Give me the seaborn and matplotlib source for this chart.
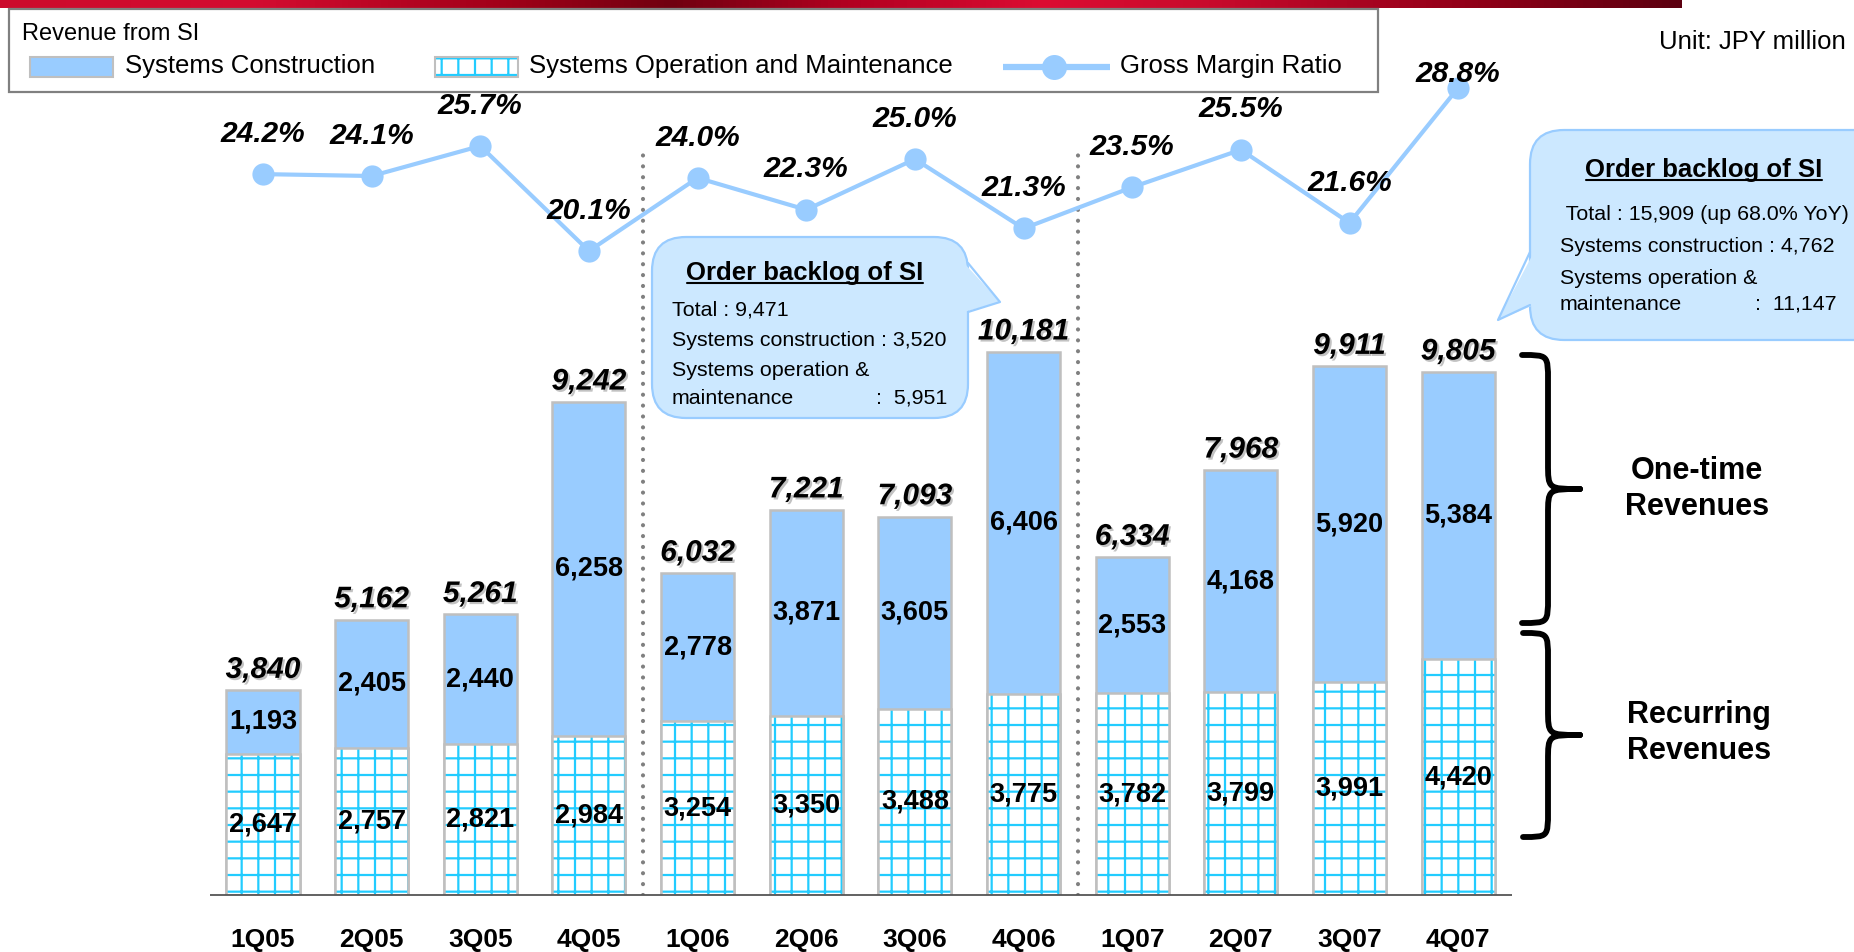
#!/usr/bin/env python3
"""Revenue from SI by quarter: stacked bars with the gross margin ratio line."""

import pandas as pd
import seaborn as sns
import matplotlib.pyplot as plt
import matplotlib.patheffects as pe
from matplotlib.colors import LinearSegmentedColormap
from matplotlib.path import Path
from matplotlib.patches import FancyBboxPatch, PathPatch, Polygon, Rectangle

# ---- data -----------------------------------------------------------------
quarters = ["1Q05", "2Q05", "3Q05", "4Q05", "1Q06", "2Q06", "3Q06", "4Q06",
            "1Q07", "2Q07", "3Q07", "4Q07"]
construction = [1193, 2405, 2440, 6258, 2778, 3871, 3605, 6406, 2553, 4168, 5920, 5384]
operation = [2647, 2757, 2821, 2984, 3254, 3350, 3488, 3775, 3782, 3799, 3991, 4420]
totals = [3840, 5162, 5261, 9242, 6032, 7221, 7093, 10181, 6334, 7968, 9911, 9805]
margin = [24.2, 24.1, 25.7, 20.1, 24.0, 22.3, 25.0, 21.3, 23.5, 25.5, 21.6, 28.8]
year_breaks = [3.5, 7.5]

legend_title = "Revenue from SI"
legend_labels = ["Systems Construction", "Systems Operation and Maintenance", "Gross Margin Ratio"]
unit_text = "Unit: JPY million"
backlog_title = "Order backlog of SI"
backlog_fy06 = ["Total : 9,471", "Systems construction : 3,520", "Systems operation &", "maintenance"]
backlog_fy06_om = ":  5,951"
backlog_fy07 = [" Total : 15,909 (up 68.0% YoY)", "Systems construction : 4,762", "Systems operation &", "maintenance"]
backlog_fy07_om = ":  11,147"
brace_labels = ["One-time\nRevenues", "Recurring\nRevenues"]

# ---- style ----------------------------------------------------------------
BLUE = "#99CCFF"
CYAN = "#22CCFF"
EDGE = "#BFBFBF"
BUBBLE = "#CCE8FF"
W, H = 1854, 952
BASE_PX = 895          # pixel row of the bar baseline
PX_PER_UNIT = 0.05336  # bar scale
X0_PX, STEP_PX = 263, 108.65
BAR_W = 0.672

sns.set_theme(style="white")
plt.rcParams["font.family"] = ["Liberation Sans", "DejaVu Sans"]
plt.rcParams["hatch.linewidth"] = 1.6

df = pd.DataFrame({"quarter": quarters, "construction": construction,
                   "operation": operation, "total": totals, "margin": margin})

fig = plt.figure(figsize=(W / 100, H / 100), dpi=100)
ax = fig.add_axes([0, (H - BASE_PX) / H, 1, BASE_PX / H])

# stacked bars: full total in blue, recurring part drawn over it
sns.barplot(data=df, x="quarter", y="total", color=BLUE, saturation=1, width=BAR_W,
            edgecolor=EDGE, linewidth=1.8, errorbar=None, ax=ax)
sns.barplot(data=df, x="quarter", y="operation", color="white", saturation=1, width=BAR_W,
            hatch="+", edgecolor=CYAN, linewidth=0, errorbar=None, ax=ax)
sns.barplot(data=df, x="quarter", y="operation", color=EDGE, fill=False, width=BAR_W,
            linewidth=1.8, errorbar=None, ax=ax)

ax.bar_label(ax.containers[1], labels=[f"{v:,}" for v in operation], label_type="center",
             fontsize=19.5, fontweight="bold", color="black")
tot_labels = ax.bar_label(ax.containers[0], labels=[f"{v:,}" for v in totals], padding=4.5,
                          fontsize=21.5, fontweight="bold", fontstyle="italic", color="black")
for t in tot_labels:
    t.set_path_effects([pe.SimplePatchShadow(offset=(1.5, -1.5), shadow_rgbFace="#9a9a9a", alpha=0.6),
                        pe.Normal()])
for i, (c, o, t) in enumerate(zip(construction, operation, totals)):
    ax.text(i, o + (t - o) / 2, f"{c:,}", ha="center", va="center",
            fontsize=19.5, fontweight="bold", color="black")

ax.hlines(0, -0.49, len(quarters) - 0.5, color="#555555", lw=1.3, zorder=4, clip_on=False)
for xb in year_breaks:
    ax.plot([xb, xb], [0, 14020], color="#808080", lw=3, linestyle=(0, (0.01, 2.6)),
            dash_capstyle="round", zorder=1)

ax.set_ylim(0, BASE_PX / PX_PER_UNIT)
ax.set_yticks([])
ax.set_xlabel("")
ax.set_ylabel("")
ax.tick_params(axis="x", length=0, pad=23.5, labelsize=19, colors="black")
for lab in ax.get_xticklabels():
    lab.set_fontweight("bold")
for s in ax.spines.values():
    s.set_visible(False)

# gross margin ratio line on a twin axis
ax2 = ax.twinx()
sns.lineplot(data=df.assign(pos=range(len(quarters))), x="pos", y="margin", color=BLUE,
             lw=3, marker="o", markersize=16, markeredgewidth=0, legend=False, ax=ax2)
ax2.set_ylim(20.1 - (BASE_PX - 251) / 18.75, 20.1 + 251 / 18.75)
ax2.set_yticks([])
ax2.set_xlabel("")
ax2.set_ylabel("")
for s in ax2.spines.values():
    s.set_visible(False)
for i, p in enumerate(margin):
    off = 10 if i == len(margin) - 1 else 29
    ax2.annotate(f"{p:.1f}%", (i, p), xytext=(0, off), textcoords="offset points",
                 ha="center", va="center", fontsize=21.5, fontweight="bold",
                 fontstyle="italic", color="black")

ax.set_xlim(-X0_PX / STEP_PX, (W - X0_PX) / STEP_PX)

# ---- overlay in pixel coordinates for legend, callouts, braces ------------
ov = fig.add_axes([0, 0, 1, 1])
ov.set_xlim(0, W)
ov.set_ylim(H, 0)
ov.axis("off")

band = LinearSegmentedColormap.from_list("band", [
    (0.0, "#cc0a2c"), (0.15, "#d40c30"), (0.3, "#a00018"), (0.4, "#700010"),
    (0.5, "#b00020"), (0.62, "#dc0c32"), (0.72, "#c80a2c"), (0.88, "#900018"), (1.0, "#5c0010")])
ov.imshow([[v / 255 for v in range(256)]], cmap=band, extent=(0, 1682, 8, 0), aspect="auto")
ov.set_xlim(0, W)
ov.set_ylim(H, 0)

# legend box
ov.add_patch(Rectangle((9, 9), 1369, 83, facecolor="white", edgecolor="#808080", lw=1.6))
ov.text(22, 34, legend_title, fontsize=17, va="center", color="black")
ov.add_patch(Rectangle((30, 57), 83, 20, facecolor=BLUE, edgecolor=EDGE, lw=1.5))
ov.text(125, 66, legend_labels[0], fontsize=18.5, va="center", color="black")
ov.add_patch(Rectangle((435, 57), 83, 20, facecolor="white", edgecolor=CYAN, lw=0, hatch="+"))
ov.add_patch(Rectangle((435, 57), 83, 20, fill=False, edgecolor=EDGE, lw=1.5))
ov.text(529, 66, legend_labels[1], fontsize=18.5, va="center", color="black")
ov.plot([1003, 1110], [67, 67], color=BLUE, lw=4.5, solid_capstyle="butt")
ov.plot([1054], [67], marker="o", ms=18, color=BLUE, markeredgewidth=0)
ov.text(1120, 66, legend_labels[2], fontsize=18.5, va="center", color="black")

ov.text(1846, 42, unit_text, fontsize=18.5, ha="right", va="center", color="black")


def callout(box, base, tip):
    x, y, w, h = box
    ov.add_patch(FancyBboxPatch((x, y), w, h, boxstyle="round,pad=0,rounding_size=34",
                                facecolor=BUBBLE, edgecolor=BLUE, lw=1.6))
    (bx, by0), (_, by1) = base
    inset = 4 if tip[0] > bx else -4
    ov.add_patch(Polygon([(bx - inset, by0), tip, (bx - inset, by1)], closed=True,
                         facecolor=BUBBLE, edgecolor="none"))
    ov.plot([bx, tip[0], bx], [by0, tip[1], by1], color=BLUE, lw=1.6)


callout((652, 237, 316, 181), ((968, 263), (968, 312)), (1000, 302))
callout((1530, 130, 380, 210), ((1530, 252), (1530, 305)), (1498, 320))

titles = [ov.text(805, 273, backlog_title, fontsize=18.5, fontweight="bold", ha="center",
                  va="center", color="black"),
          ov.text(1704, 170, backlog_title, fontsize=18.5, fontweight="bold", ha="center",
                  va="center", color="black")]
for txt, y in zip(backlog_fy06, [310, 340, 371, 398]):
    ov.text(672, y, txt, fontsize=15.4, va="center", color="black")
ov.text(947, 398, backlog_fy06_om, fontsize=15.4, va="center", ha="right", color="black")
for txt, y in zip(backlog_fy07, [215, 247, 279, 304]):
    ov.text(1560, y, txt, fontsize=15.4, va="center", color="black")
ov.text(1837, 304, backlog_fy07_om, fontsize=15.4, va="center", ha="right", color="black")


def brace(x0, xs, xt, y0, y1, r=26):
    ym = (y0 + y1) / 2
    verts = [(x0, y0), (xs, y0), (xs, y0), (xs, y0 + r),
             (xs, ym - r),
             (xs, ym), (xs, ym), (xt, ym),
             (xs, ym), (xs, ym), (xs, ym + r),
             (xs, y1 - r),
             (xs, y1), (xs, y1), (x0, y1)]
    codes = [Path.MOVETO, Path.CURVE4, Path.CURVE4, Path.CURVE4,
             Path.LINETO,
             Path.CURVE4, Path.CURVE4, Path.CURVE4,
             Path.CURVE4, Path.CURVE4, Path.CURVE4,
             Path.LINETO,
             Path.CURVE4, Path.CURVE4, Path.CURVE4]
    ov.add_patch(PathPatch(Path(verts, codes), fill=False, edgecolor="black", lw=4.2,
                           capstyle="round", joinstyle="round"))


brace(1522, 1548, 1580, 355, 623)
brace(1523, 1548, 1580, 633, 837)
ov.text(1697, 489, brace_labels[0], fontsize=22, fontweight="bold", ha="center", va="center",
        linespacing=1.25, color="black")
ov.text(1699, 733, brace_labels[1], fontsize=22, fontweight="bold", ha="center", va="center",
        linespacing=1.25, color="black")

# underline the callout titles using their rendered extent
fig.canvas.draw()
inv = ov.transData.inverted()
for t in titles:
    bb = t.get_window_extent()
    (x0, _), (x1, _) = inv.transform([(bb.x0, bb.y0), (bb.x1, bb.y0)])
    y = t.get_position()[1] + 10
    ov.plot([x0 + 1, x1 - 1], [y, y], color="black", lw=1.5)

fig.savefig("out.png", dpi=100)
